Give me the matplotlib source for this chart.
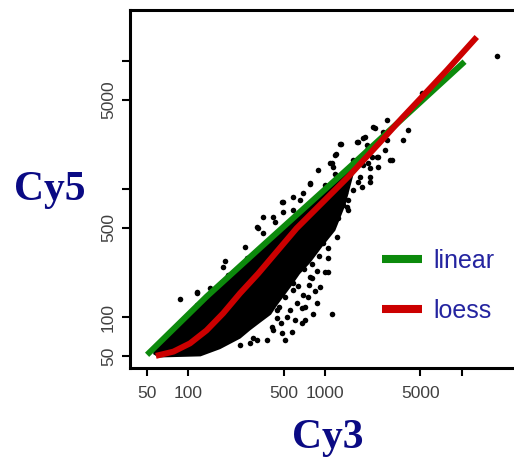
import matplotlib
matplotlib.use("Agg")
import matplotlib.pyplot as plt
from matplotlib.lines import Line2D

# ---- data (log-log axes) ----
# scattered points (Cy3, Cy5)
pts_x = [510, 482, 571, 675, 714, 821, 869, 919, 799, 694, 586, 571, 510, 443, 1120,
         1057, 1057, 1218, 845, 586, 299, 239, 375, 675, 755, 555,
         87, 115, 144, 186, 260, 325, 419, 495, 586, 694, 777, 893, 1183, 1288, 1752,
         1962, 2321, 2827, 1000, 1150, 1442, 354, 267, 176, 115,
         2134, 1803, 1480, 1480, 1288, 1752, 2074, 2388, 2748, 3076, 3740, 4065, 2827,
         2134, 1906, 1610, 1057, 1150,
         1302, 1203, 1906, 1706, 2018, 2670, 2455, 2196, 5096, 18030,
         115, 180, 195, 316, 282, 407, 443, 335, 299,
         316, 354, 432, 482, 495, 586, 655, 777, 1085, 1183, 1442, 1000, 777, 586,
         1120, 2250, 2990, 2134, 1857, 1610, 1403, 2018, 2455,
         620, 640, 720, 760, 840, 880, 480, 530, 600, 700, 800, 900, 960, 1050,
         1250, 1350, 420, 460]
pts_y = [66.5, 75, 77, 90, 95, 107, 129, 173, 202, 149, 163, 214, 145, 114, 107,
         227, 289, 426, 346, 289, 68.6, 60.8, 66.5, 118, 145, 114,
         138, 154, 169, 275, 356, 496, 611, 800, 689, 930, 1126, 1415, 1853, 2247, 2355,
         2576, 2998, 3478, 1080, 1502, 1372, 453, 289, 190, 125,
         1459, 1254, 825, 689, 825, 1146, 1597, 1797, 2028, 1694, 2427, 2906, 2427,
         1146, 1549, 1694, 825, 649,
         2259, 1876, 2503, 2329, 2218, 2818, 1797, 1797, 5623, 11000,
         158, 249, 214, 66.5, 63, 84.5, 98, 128, 107,
         510, 611, 558, 800, 668, 876, 825, 1110, 1594, 1330, 730, 227, 207, 184,
         1594, 3080, 1694, 1254, 1047, 985, 930, 2028, 1502,
         130, 175, 120, 180, 160, 230, 90, 100, 95, 240, 260, 300, 380, 350,
         600, 750, 80, 120]

# envelope of the dense (solid black) core of the cloud
core_x = [55, 60, 122, 170, 239, 282, 335, 400, 443, 560, 650, 777, 950, 1180, 1400, 1600]
core_lo = [52, 49, 50, 57, 69, 80, 92, 106, 125, 175, 220, 270, 360, 480, 760, 1300]
core_hi = [57, 64, 128, 180, 252, 298, 355, 420, 468, 590, 680, 810, 990, 1220, 1430, 1560]

# fitted curves
lin_x = [50, 136, 323, 1480, 10500]
lin_y = [51, 145, 336, 1459, 9950]
loess_x = [58, 78, 103, 136, 180, 239, 325, 620, 1480, 2500, 3700, 5100, 7800, 12900]
loess_y = [50, 54, 62.6, 79, 107.5, 154, 220, 496, 1254, 2300, 3650, 5250, 8530, 15500]

x_ticks = [50, 100, 500, 1000, 5000, 10000]
x_ticklabels = ["50", "100", "500", "1000", "5000", ""]
y_ticks = [50, 100, 500, 1000, 5000, 10000]
y_ticklabels = ["50", "100", "500", "", "5000", ""]
legend_labels = ["linear", "loess"]

GREEN = "#0c8a0c"
RED = "#cc0000"
NAVY = "#0a0a84"
LEGTXT = "#2424a0"

W, H = 514, 458
fig = plt.figure(figsize=(W / 100, H / 100), dpi=100)
ax = fig.add_axes([130 / W, 1 - 368 / H, 1 - 130 / W, (368 - 10) / H])
ax.set_xscale("log")
ax.set_yscale("log")
ax.set_xlim(37.5, 24150)
ax.set_ylim(40.2, 25200)

ax.fill_between(core_x, core_lo, core_hi, color="black", linewidth=0, zorder=1)
ax.plot(pts_x, pts_y, "o", color="black", ms=4.0, mew=0, zorder=2)
ax.plot(lin_x, lin_y, color=GREEN, lw=4.3, solid_capstyle="butt", zorder=3)
ax.plot(loess_x, loess_y, color=RED, lw=4.3, solid_capstyle="butt", zorder=3)

ax.spines["right"].set_visible(False)
for s in ("left", "bottom", "top"):
    ax.spines[s].set_linewidth(2.2)
ax.minorticks_off()
ax.set_xticks(x_ticks)
ax.set_xticklabels(x_ticklabels)
ax.set_yticks(y_ticks)
ax.set_yticklabels(y_ticklabels, rotation=90, va="center")
tick_font = ["Liberation Sans Narrow", "Liberation Sans", "DejaVu Sans"]
ax.tick_params(axis="both", which="major", length=6, width=1.5, direction="out",
               labelsize=12.5, labelcolor="#404040", top=False, right=False)
ax.tick_params(axis="x", pad=7)
ax.tick_params(axis="y", pad=4)
for lab in ax.get_xticklabels() + ax.get_yticklabels():
    lab.set_family(tick_font)

handles = [Line2D([], [], color=GREEN, lw=5.8, solid_capstyle="butt"),
           Line2D([], [], color=RED, lw=5.8, solid_capstyle="butt")]
leg = ax.legend(handles, legend_labels, loc="center left",
                bbox_to_anchor=(382 / W, 1 - 286 / H), bbox_transform=fig.transFigure,
                frameon=False, borderpad=0, borderaxespad=0, handlelength=1.6,
                handletextpad=0.45, labelspacing=1.05,
                prop={"family": ["Liberation Sans", "DejaVu Sans"], "size": 18})
for t in leg.get_texts():
    t.set_color(LEGTXT)

fig.text(14 / W, 1 - 200 / H, "Cy5", family=["Liberation Serif", "DejaVu Serif"],
         weight="bold", size=30, color=NAVY, ha="left", va="baseline")
fig.text(292 / W, 1 - 448 / H, "Cy3", family=["Liberation Serif", "DejaVu Serif"],
         weight="bold", size=30, color=NAVY, ha="left", va="baseline")

fig.savefig("out.png", dpi=100)
